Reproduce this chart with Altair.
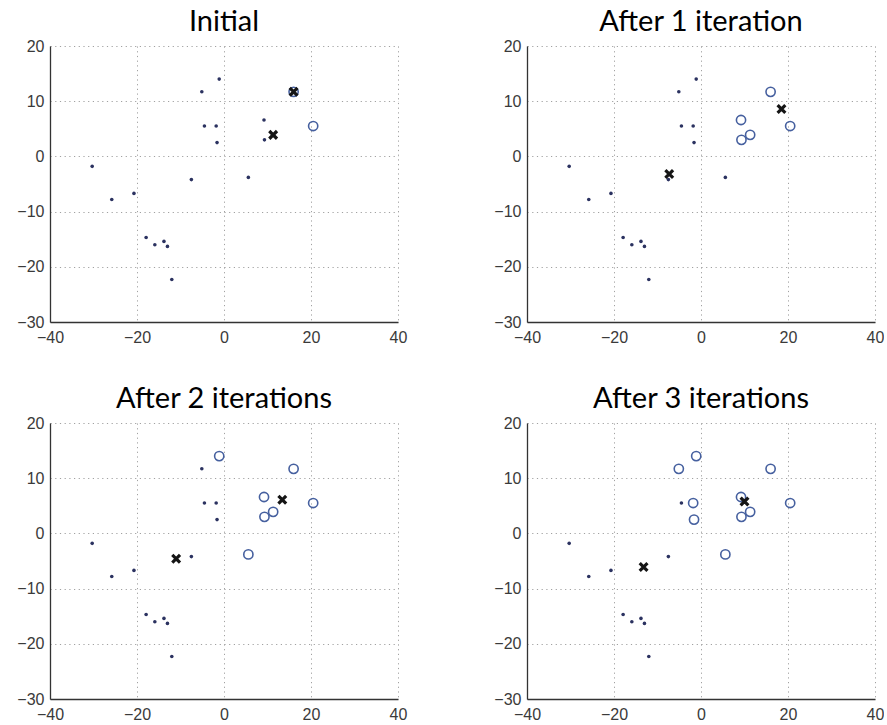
import altair as alt
import pandas as pd

# Sample points (same 20 points in every panel)
xs = [-30.3, -25.8, -20.7, -17.9, -15.9, -13.8, -13.0, -12.0, -7.5, -5.1,
      -4.5, -1.8, -1.1, -1.6, 5.6, 9.2, 9.3, 11.3, 16.0, 20.5]
ys = [-1.8, -7.8, -6.7, -14.7, -16.0, -15.4, -16.3, -22.3, -4.2, 11.7,
      5.5, 5.5, 14.0, 2.5, -3.8, 6.6, 3.0, 3.9, 11.7, 5.5]

titles = ["Initial", "After 1 iteration", "After 2 iterations", "After 3 iterations"]

# Cluster membership per step: 1 = circle cluster, 0 = dot cluster
assign_0 = [0, 0, 0, 0, 0, 0, 0, 0, 0, 0, 0, 0, 0, 0, 0, 0, 0, 0, 1, 1]
assign_1 = [0, 0, 0, 0, 0, 0, 0, 0, 0, 0, 0, 0, 0, 0, 0, 1, 1, 1, 1, 1]
assign_2 = [0, 0, 0, 0, 0, 0, 0, 0, 0, 0, 0, 0, 1, 0, 1, 1, 1, 1, 1, 1]
assign_3 = [0, 0, 0, 0, 0, 0, 0, 0, 0, 1, 0, 1, 1, 1, 1, 1, 1, 1, 1, 1]
assignments = [assign_0, assign_1, assign_2, assign_3]

# Centroid positions per step
centroid_x = [[11.3, 16.0], [-7.3, 18.5], [-11.0, 13.4], [-13.2, 10.0]]
centroid_y = [[3.9, 11.7], [-3.2, 8.6], [-4.6, 6.1], [-6.1, 5.8]]

x_ticks = [-40, -20, 0, 20, 40]
y_ticks = [-30, -20, -10, 0, 10, 20]

PLOT_W, PLOT_H = 348, 276

x_enc = alt.X("x:Q", scale=alt.Scale(domain=[-40, 40], nice=False, zero=False),
              axis=alt.Axis(values=x_ticks, title=None))
y_enc = alt.Y("y:Q", scale=alt.Scale(domain=[-30, 20], nice=False, zero=False),
              axis=alt.Axis(values=y_ticks, title=None))

X_SHAPE = "M-1,-1L1,1M-1,1L1,-1"


def panel(i):
    pts = pd.DataFrame({"x": xs, "y": ys, "c": assignments[i]})
    cen = pd.DataFrame({"x": centroid_x[i], "y": centroid_y[i]})
    base = alt.Chart(pts)
    dots = base.transform_filter("datum.c == 0").mark_point(
        filled=True, shape="circle", size=13, color="#2b3260", opacity=1
    ).encode(x=x_enc, y=y_enc)
    rings = base.transform_filter("datum.c == 1").mark_point(
        filled=False, shape="circle", size=85, stroke="#46609f", strokeWidth=1.6, opacity=1
    ).encode(x=x_enc, y=y_enc)
    cents = alt.Chart(cen).mark_point(
        shape=X_SHAPE, size=60, filled=False, stroke="#151515", strokeWidth=3.2, opacity=1
    ).encode(x=x_enc, y=y_enc)
    return alt.layer(dots, rings, cents).properties(
        width=PLOT_W, height=PLOT_H,
        title=alt.TitleParams(titles[i], font="Lato", fontSize=29, fontWeight="normal",
                              color="#000000", anchor="middle", offset=1),
    )


chart = alt.concat(
    panel(0), panel(1), panel(2), panel(3),
    columns=2, spacing={"row": 101, "column": 129}, bounds="flush",
).properties(
    padding={"left": 16, "top": 8, "right": 0, "bottom": 0},
    background="white",
).configure_view(
    stroke=None
).configure_axis(
    grid=True, gridColor="#8a8a8a", gridDash=[1.2, 3.5], gridWidth=1, gridOpacity=0.8,
    domainColor="#333333", domainWidth=1.3, ticks=False,
    labelFont="Liberation Sans", labelFontSize=16, labelColor="#3a3a3a", labelPadding=6,
    labelFlush=False,
).configure_axisX(
    labelPadding=7,
)

chart.save("out.html", embed_options={"renderer": "svg", "actions": False})
